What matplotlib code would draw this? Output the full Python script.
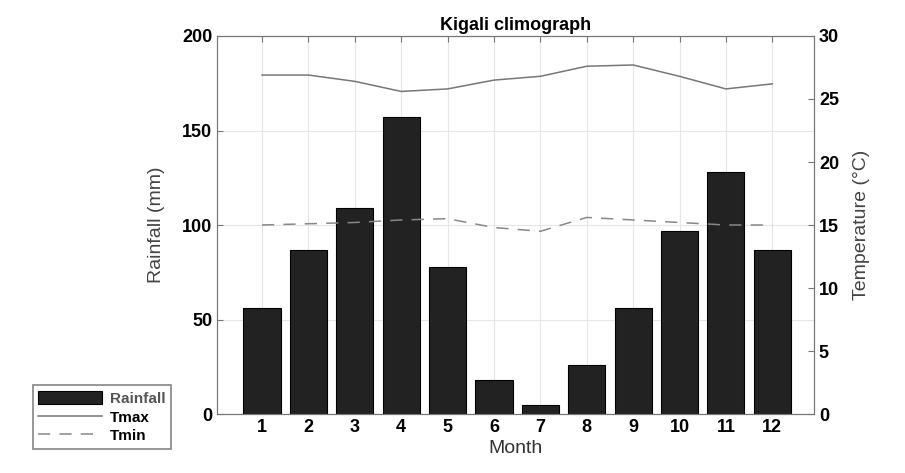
import matplotlib
matplotlib.use('Agg')
from matplotlib import pyplot as plt

plt.rcParams['font.family'] = ['Liberation Sans', 'DejaVu Sans']

months = list(range(1, 13))
rainfall = [56, 87, 109, 157, 78, 18, 5, 26, 56, 97, 128, 87]
tmax = [26.9, 26.9, 26.4, 25.6, 25.8, 26.5, 26.8, 27.6, 27.7, 26.8, 25.8, 26.2]
tmin = [15.0, 15.1, 15.2, 15.4, 15.5, 14.8, 14.5, 15.6, 15.4, 15.2, 15.0, 15.0]

fig = plt.figure(figsize=(9.05, 4.73), dpi=100)
ax = fig.add_axes([0.2398, 0.1247, 0.6597, 0.7992])

bars = ax.bar(months, rainfall, width=0.8, color='#222222', edgecolor='black',
              linewidth=0.8, label='Rainfall', zorder=2)
ax.set_xlim(0.03, 12.9)
ax.set_ylim(0, 200)
ax.set_xticks(months)
ax.set_yticks([0, 50, 100, 150, 200])
ax.grid(True, color='#e6e6e6', linewidth=0.8, zorder=0)
ax.set_axisbelow(True)
ax.tick_params(direction='in', top=True, length=4, color='#777777',
               labelsize=13)
for lab in ax.get_xticklabels() + ax.get_yticklabels():
    lab.set_fontweight('bold')
ax.set_xlabel('Month', fontsize=14, color='#333333', labelpad=3)
ax.set_ylabel('Rainfall (mm)', fontsize=14, color='#444444', labelpad=12)
ax.set_title('Kigali climograph', fontsize=13, fontweight='bold', pad=4)
for s in ax.spines.values():
    s.set_color('#777777')

ax2 = ax.twinx()
l1, = ax2.plot(months, tmax, color='#777777', linewidth=1.1, label='Tmax')
l2, = ax2.plot(months, tmin, color='#888888', linewidth=1.1, linestyle=(0, (8, 6)),
               label='Tmin')
ax2.set_ylim(0, 30)
ax2.set_yticks([0, 5, 10, 15, 20, 25, 30])
ax2.tick_params(direction='in', length=4, color='#777777', labelsize=13)
for lab in ax2.get_yticklabels():
    lab.set_fontweight('bold')
ax2.set_ylabel('Temperature (°C)', fontsize=14, color='#444444', labelpad=10)
for s in ax2.spines.values():
    s.set_color('#777777')

leg = fig.legend([bars, l1, l2], ['Rainfall', 'Tmax', 'Tmin'],
                 loc='lower left', bbox_to_anchor=(0.028, 0.035),
                 prop={'size': 11, 'weight': 'bold'}, frameon=True, fancybox=False,
                 edgecolor='#666666', handlelength=4.2, handleheight=1.0,
                 borderpad=0.35, labelspacing=0.25, handletextpad=0.5)
leg.get_frame().set_linewidth(1.2)
leg.get_texts()[0].set_color('#555555')

fig.savefig('out.png', dpi=100)
